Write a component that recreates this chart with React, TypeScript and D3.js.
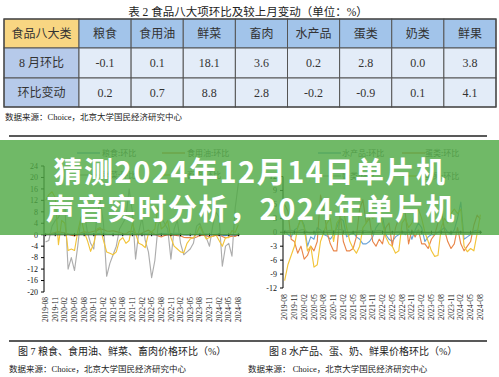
import React from "react";
import * as d3 from "d3";

// ---------- Table data ----------
const tableCategories = ["粮食", "食用油", "鲜菜", "畜肉", "水产品", "蛋类", "奶类", "鲜果"];
const augMoM = ["-0.1", "0.1", "18.1", "3.6", "0.2", "2.8", "0.0", "3.8"];
const momChange = ["0.2", "0.7", "8.8", "2.8", "-0.2", "-0.9", "0.1", "4.1"];
const rowLabels = ["食品八大类", "8 月环比", "环比变动"];

// ---------- Chart categories ----------
const months: string[] = d3
  .timeMonth.range(new Date(2019, 7, 1), new Date(2024, 8, 1))
  .map((d) => d3.timeFormat("%Y-%m")(d));

// ---------- Figure 7 series ----------
const grain = [0.2,0.1,0.3,0.5,0.4, 0.5,0.7,0.3,0.2,0.1, 0.1,0.3,0.5,0.4,0.2, 0.3,0.3,0.5,0.5,0.2, 0.1,0.1,0.1,0.1,0.0, 0.2,0.2,0.5,0.4,0.3, 0.3,0.3,0.2,0.1,0.0, 0.2,0.5,0.4,0.3,0.3, 0.5,0.5,0.3,0.0,-0.1, 0.0,0.1,0.1,0.1,0.2, 0.3,0.1,0.0,0.1,0.2, -0.2,-0.3,-0.1,0.0,-0.3, -0.1];
const oil = [0.1,0.2,0.5,0.8,1.0, 0.8,0.6,0.2,-0.2,-0.4, 0.1,0.7,1.0,0.8,0.9, 1.2,1.5,2.1,1.8,1.3, 1.2,1.4,1.1,0.8,0.4, 0.3,1.1,1.2,0.4,0.2, 0.6,1.1,1.6,0.9,0.2, -0.4,-0.8,-0.3,0.0,-0.2, -0.1,-0.3,-0.4,-0.9,-1.0, -1.0,-1.2,-0.8,-0.3,-0.1, -0.4,-0.7,-0.6,-0.2,-0.1, -0.6,-1.1,-0.8,-0.5,-0.6, 0.1];
const vegetables = [-2.5,-2,3,5,6, 9,10,-12,-8,-12.5, -4,6,8,1,-3, -5,7,12,4,-14.5, -10,-7,-4,2,4, 6,16,8,-8.5,1, 6,-2,-6,-15,-9, 3,6,4,2,-8.5, 2,5,-3,-7,-6, -5,-3,3,4,1, -1,-4,3,8,6, -11,-4,-3,-7.5,9.3, 18.1];
const meat = [12,14,15,13,-3.5, 5,4,-5.5,-5,-5.5, 1,6,1,-2,-5.8, -3,2,2.5,-2,-6, -6.5,-7,-6,-2,-1, -3,-2,4,0.5,-3, -3.5,-4.5,0.5,1,2, 10,2,3,5,-1, -4,-5,-6,-6.3,-3, -1.5,-1,0.5,3,0.5, -1.5,-1,-0.5,0,-2, -4,-1,-1,1.5,0.8, 3.6];

// ---------- Figure 8 series ----------
const aquatic = [0.5,-0.5,-1,0.5,1, 3,1.5,-3,-1,-1.5, 1,0.5,-0.5,-0.8,-1.5, -0.5,1,3,2.5,-1, -0.5,0,-1,-1.5,-2.5, -2.5,-2,-1,1,2, 3.5,-0.5,-1.5,-2,-1, -0.5,0.2,-0.5,0.5,-1.5, 0.5,2,1,-2,-1, -0.5,-0.5,0,0.5,1, 0,-0.5,0.5,3,6.5, -1.5,-1,-0.5,0.3,0.4, 0.2];
const eggs = [6,4.5,-1.5,-2,-4.5, -3,-5.8,-5,-3,-4, -2,8,5,0,-2.5, -4,-4,4,-2,-4, -4,-3.5,-1,5,7, 2,3,-2,-3,-1.5, -2.5,1,2,-3,1, 3,6,4,-2.5,0.5, -1,0.5,-2.5,-2.5,-3.5, -1.5,-0.5,2,5,0.5, -2,-3.5,-2.5,1,-2.5, -4,-3,-2,1.5,3.7, 2.8];
const milk = [0.2,0.3,0.4,0.3,0.2, 0.5,0.6,0.0,-0.2,-0.1, 0.1,0.2,0.3,0.3,0.4, 0.3,0.5,0.6,0.4,0.1, 0.0,0.1,0.2,0.3,0.4, 0.3,0.2,0.3,0.3,0.4, 0.2,0.0,0.0,0.1,0.1, 0.2,0.2,0.1,0.0,0.1, 0.2,0.3,0.1,-0.1,-0.2, -0.1,0.0,0.0,0.1,0.1, 0.0,-0.1,0.0,0.2,0.1, -0.3,-0.4,-0.3,-0.2,-0.1, 0.0];
const fruit = [-10.4,-7,-5,-3,1, 3,1,-4,-3,-7.5, -7,-2,0,2,3, -2,2,3,5,1, -2,-3.5,-4.5,-3,1, 2,4,3,3.5,5, 2,-1,-2.5,-3,-4.5, -4,2,3,1,2, 4,5,3,0,-2, -4,-5.2,-5,1,3, 2,4,5,4,5, -3,-4.2,-3.5,-4,-0.3, 3.8];

const leftTicks = [24, 20, 16, 12, 8, 4, 0, -4, -8, -12, -16, -20];
const rightTicks = [12, 9, 6, 3, 0, -3, -6, -9, -12];

const C_BLUE = "#6aa3d8";
const C_ORANGE = "#e9864a";
const C_GRAY = "#adadad";
const C_YELLOW = "#f2c43a";

const CJK = "'Noto Sans CJK SC', sans-serif";
const SERIF = "'Liberation Serif', 'Noto Sans CJK SC', serif";

type Series = { name: string; values: number[]; color: string };

const leftSeries: Series[] = [
  { name: "粮食:环比", values: grain, color: C_BLUE },
  { name: "食用油:环比", values: oil, color: C_ORANGE },
  { name: "鲜菜:环比", values: vegetables, color: C_GRAY },
  { name: "畜肉:环比", values: meat, color: C_YELLOW },
];
const rightSeries: Series[] = [
  { name: "水产品:环比", values: aquatic, color: C_BLUE },
  { name: "蛋类:环比", values: eggs, color: C_ORANGE },
  { name: "奶类:环比", values: milk, color: C_GRAY },
  { name: "鲜果:环比", values: fruit, color: C_YELLOW },
];

function LineChart(props: {
  series: Series[];
  x0: number; x1: number; yTop: number; yBot: number;
  domain: [number, number]; ticks: number[];
  labelEnd: number; xLabelTop: number; xFont: number;
  legendX: [number, number]; legendLineX: [number, number]; legendY: [number, number];
}) {
  const { series, x0, x1, yTop, yBot, domain, ticks } = props;
  const x = d3.scalePoint<string>().domain(months).range([x0, x1]).padding(0.5);
  const y = d3.scaleLinear().domain(domain).range([yBot, yTop]);
  const line = d3
    .line<number>()
    .x((_, i) => x(months[i]) as number)
    .y((d) => y(d));
  const tickMonths = months.filter((_, i) => i % 3 === 0);
  return (
    <g>
      {series.map((s, i) => {
        const col = i % 2;
        const row = Math.floor(i / 2);
        const ly = props.legendY[row];
        return (
          <g key={s.name}>
            <line x1={props.legendLineX[col]} x2={props.legendLineX[col] + 23} y1={ly} y2={ly} stroke={s.color} strokeWidth={1.4} />
            <text x={props.legendX[col]} y={ly + 3} fontSize={8} fontFamily={CJK} fill="#595959">{s.name}</text>
          </g>
        );
      })}
      <line x1={x0} x2={x0} y1={yTop} y2={yBot} stroke="#000" strokeWidth={1} />
      {ticks.map((t) => (
        <g key={t}>
          <line x1={x0 - 3} x2={x0} y1={y(t)} y2={y(t)} stroke="#000" strokeWidth={1} />
          <text x={props.labelEnd} y={y(t) + 2.8} fontSize={8} fontFamily={SERIF} textAnchor="end" fill="#111">{t}</text>
        </g>
      ))}
      {series.map((s) => (
        <path key={s.name} d={line(s.values) || ""} fill="none" stroke={s.color} strokeWidth={1.15} strokeLinejoin="round" />
      ))}
      <line x1={x0} x2={x1} y1={y(0)} y2={y(0)} stroke="#000" strokeWidth={1} />
      {tickMonths.map((m) => (
        <line key={m} x1={x(m)} x2={x(m)} y1={y(0) - 1.5} y2={y(0) + 1.5} stroke="#000" strokeWidth={1} />
      ))}
      {tickMonths.map((m) => (
        <text
          key={"l" + m}
          transform={`translate(${(x(m) as number) + 2.6},${props.xLabelTop}) rotate(-90)`}
          fontSize={props.xFont}
          fontFamily={SERIF}
          textAnchor="end"
          fill="#222"
        >
          {m}
        </text>
      ))}
    </g>
  );
}

export default function App() {
  const colX = d3.scaleBand<string>().domain(tableCategories).range([79, 496]);
  const rowY = [19, 48, 78, 107];
  const headFill = "#a2c4ea";
  const headFirst = "#f8d682";
  const rowFirst = "#b6caea";
  const cellFill = "#e3ecf8";
  const rows = [augMoM, momChange];
  return (
    <svg width={499} height={377} style={{ position: "absolute", left: 0, top: 0, background: "#fff" }}>
      <rect width={499} height={377} fill="#fff" />
      <text x={248} y={16} fontSize={11.5} fontFamily={SERIF} textAnchor="middle" fill="#222">
        表 2  食品八大项环比及较上月变动（单位：%）
      </text>
      <g>
        {[0, 1, 2].map((r) => (
          <g key={r}>
            <rect x={4} y={rowY[r]} width={75} height={rowY[r + 1] - rowY[r]} fill={r === 0 ? headFirst : rowFirst} stroke="#555" strokeWidth={1} />
            <text x={41.5} y={(rowY[r] + rowY[r + 1]) / 2 + 4.2} fontSize={12} fontFamily={SERIF} textAnchor="middle" fill="#333">{rowLabels[r]}</text>
            {tableCategories.map((c, ci) => (
              <g key={c}>
                <rect x={colX(c)} y={rowY[r]} width={colX.bandwidth()} height={rowY[r + 1] - rowY[r]} fill={r === 0 ? headFill : cellFill} stroke="#555" strokeWidth={1} />
                <text x={(colX(c) as number) + colX.bandwidth() / 2} y={(rowY[r] + rowY[r + 1]) / 2 + 4.2} fontSize={12} fontFamily={SERIF} textAnchor="middle" fill="#333">
                  {r === 0 ? c : rows[r - 1][ci]}
                </text>
              </g>
            ))}
          </g>
        ))}
        <rect x={4} y={19} width={492} height={88} fill="none" stroke="#444" strokeWidth={1.2} />
      </g>
      <text x={5} y={120} fontSize={8.5} fontFamily={SERIF} fill="#222">数据来源：Choice，北京大学国民经济研究中心</text>
      <line x1={9} x2={487} y1={136} y2={136} stroke="#222" strokeWidth={1.5} />

      <LineChart
        series={leftSeries}
        x0={44} x1={240} yTop={166} yBot={292}
        domain={[-20, 24]} ticks={leftTicks}
        labelEnd={38} xLabelTop={297} xFont={7.5}
        legendX={[102, 187]} legendLineX={[77, 162]} legendY={[153, 175]}
      />
      <LineChart
        series={rightSeries}
        x0={283} x1={482} yTop={176.5} yBot={288}
        domain={[-12, 12]} ticks={rightTicks}
        labelEnd={277} xLabelTop={294} xFont={7.8}
        legendX={[342, 425]} legendLineX={[318, 402]} legendY={[153, 176]}
      />

      <line x1={9} x2={487} y1={341} y2={341} stroke="#222" strokeWidth={1.5} />
      <text x={18} y={355} fontSize={10} fontFamily={SERIF} fill="#222">图 7  粮食、食用油、鲜菜、畜肉价格环比（%）</text>
      <text x={269} y={355} fontSize={10} fontFamily={SERIF} fill="#222">图 8 水产品、蛋、奶、鲜果价格环比（%）</text>
      <text x={9} y={372} fontSize={8.5} fontFamily={SERIF} fill="#222">数据来源：Choice，北京大学国民经济研究中心</text>
      <text x={248} y={372} fontSize={8.5} fontFamily={SERIF} fill="#222">数据来源： Choice，北京大学国民经济研究中心</text>

      <rect x={0} y={140} width={499} height={95} fill="rgb(80,170,70)" opacity={0.82} />
      <text x={250} y={183} fontSize={29} fontWeight={700} fontFamily={CJK} textAnchor="middle" fill="#fff" letterSpacing={1.5}>
        猜测2024年12月14日单片机
      </text>
      <text x={251} y={220} fontSize={29} fontWeight={700} fontFamily={CJK} textAnchor="middle" fill="#fff" letterSpacing={1.5}>
        声音实时分析，2024年单片机
      </text>
    </svg>
  );
}
